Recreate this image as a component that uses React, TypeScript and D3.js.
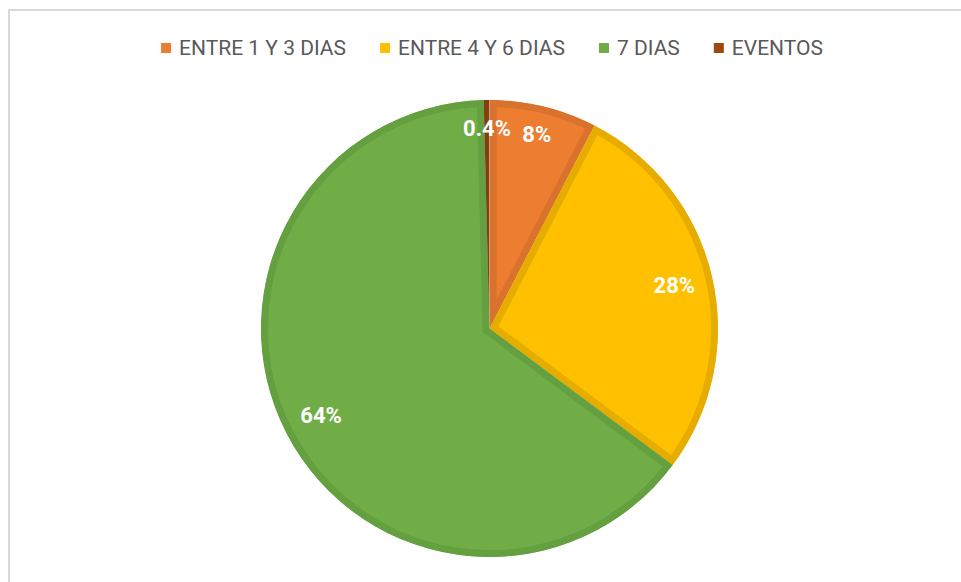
import React, { useEffect, useRef } from 'react';
import * as d3 from 'd3';

// chart data
const categories = ['ENTRE 1 Y 3 DIAS', 'ENTRE 4 Y 6 DIAS', '7 DIAS', 'EVENTOS'];
const values = [7.6, 27.6, 64.4, 0.4];
const fills = ['#ED7D31', '#FFC000', '#70AD47', '#9E480E'];
const borders = ['#D9722D', '#E6AD00', '#65A040', '#863C0C'];

const W = 961;
const H = 582;

const App = () => {
  const ref = useRef<SVGSVGElement | null>(null);

  useEffect(() => {
    const svg = d3.select(ref.current);
    svg.selectAll('*').remove();

    // chart frame
    svg
      .append('rect')
      .attr('x', 9)
      .attr('y', 10)
      .attr('width', 1000)
      .attr('height', 1000)
      .attr('fill', '#ffffff')
      .attr('stroke', '#D9D9D9')
      .attr('stroke-width', 2);

    const cx = 489.5;
    const cy = 328.5;
    const radius = 228.5;
    const total = d3.sum(values);

    const pie = d3
      .pie<number>()
      .sort(null)
      .value((d) => d);
    const arcs = pie(values);

    const arc = d3.arc<d3.PieArcDatum<number>>().innerRadius(0).outerRadius(radius);

    const g = svg.append('g').attr('transform', `translate(${cx},${cy})`);
    const defs = svg.append('defs');

    arcs.forEach((a, i) => {
      // clip so the border is drawn inside each slice
      defs
        .append('clipPath')
        .attr('id', `slice-${i}`)
        .append('path')
        .attr('d', arc(a));

      g.append('path')
        .attr('d', arc(a))
        .attr('fill', fills[i])
        .attr('stroke', borders[i])
        .attr('stroke-width', 14)
        .attr('stroke-linejoin', 'miter')
        .attr('clip-path', `url(#slice-${i})`);
    });

    // data labels
    arcs.forEach((a, i) => {
      const pct = (values[i] / total) * 100;
      const r = pct < 10 ? radius * 0.875 : radius * 0.83;
      const labelArc = d3.arc<d3.PieArcDatum<number>>().innerRadius(r).outerRadius(r);
      const [lx, ly] = labelArc.centroid(a);
      g.append('text')
        .attr('x', lx)
        .attr('y', ly)
        .attr('text-anchor', 'middle')
        .attr('dominant-baseline', 'central')
        .attr('fill', '#ffffff')
        .style('font-family', 'Roboto, sans-serif')
        .style('font-weight', 700)
        .style('font-size', '22px')
        .text(pct < 1 ? `${pct.toFixed(1)}%` : `${Math.round(pct)}%`);
    });

    // legend
    const legend = svg.append('g');
    const items = categories.map((c, i) => {
      const item = legend.append('g');
      item
        .append('rect')
        .attr('width', 10)
        .attr('height', 10)
        .attr('y', -5)
        .attr('fill', fills[i]);
      const t = item
        .append('text')
        .attr('x', 18)
        .attr('dominant-baseline', 'central')
        .attr('fill', '#595959')
        .style('font-family', 'Roboto, sans-serif')
        .style('font-size', '21px')
        .text(c);
      const w = 18 + (t.node() as SVGTextElement).getComputedTextLength();
      return { item, w };
    });
    const gap = 34;
    const totalW = d3.sum(items, (d) => d.w) + gap * (items.length - 1);
    let x = 492 - totalW / 2;
    items.forEach((d) => {
      d.item.attr('transform', `translate(${x},48)`);
      x += d.w + gap;
    });
  }, []);

  return (
    <svg
      ref={ref}
      width={W}
      height={H}
      style={{ position: 'absolute', left: 0, top: 0, background: '#ffffff' }}
    />
  );
};

export default App;
